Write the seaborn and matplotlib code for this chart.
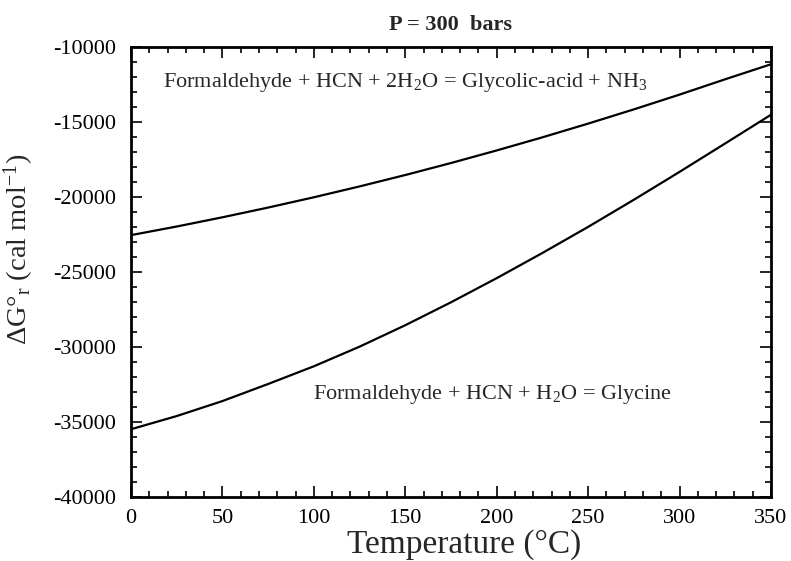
import matplotlib
matplotlib.use("Agg")
import matplotlib.pyplot as plt
from matplotlib.ticker import MultipleLocator
import pandas as pd
import seaborn as sns

# Temperature grid (°C) and standard Gibbs energies of reaction (cal/mol) at 300 bars
temperature = [0, 25, 50, 75, 100, 125, 150, 175, 200, 225, 250, 275, 300, 325, 350]
dg_glycolic = [-22550, -21975, -21360, -20710, -20025, -19300, -18540, -17740,
               -16900, -16025, -15110, -14160, -13175, -12150, -11150]
dg_glycine = [-35500, -34620, -33620, -32480, -31300, -29990, -28560, -27030,
              -25420, -23740, -22000, -20190, -18330, -16430, -14520]

label_glycolic = "Formaldehyde + HCN + 2H$_2$O = Glycolic-acid + NH$_3$"
label_glycine = "Formaldehyde + HCN + H$_2$O = Glycine"

sns.set_style("ticks")
plt.rcParams["font.family"] = ["Liberation Serif", "DejaVu Serif"]
plt.rcParams["mathtext.fontset"] = "custom"
plt.rcParams["mathtext.rm"] = "Liberation Serif"
plt.rcParams["mathtext.it"] = "Liberation Serif:italic"
plt.rcParams["mathtext.bf"] = "Liberation Serif:bold"
plt.rcParams["mathtext.default"] = "regular"
plt.rcParams["axes.unicode_minus"] = False

df = pd.concat([
    pd.DataFrame({"T": temperature, "dG": dg_glycolic, "reaction": "glycolic"}),
    pd.DataFrame({"T": temperature, "dG": dg_glycine, "reaction": "glycine"}),
])

fig = plt.figure(figsize=(7.91, 5.61), dpi=100)
ax = fig.add_axes([0.1656, 0.1146, 0.8091, 0.8016])

sns.lineplot(data=df, x="T", y="dG", hue="reaction",
             palette={"glycolic": "black", "glycine": "black"},
             linewidth=1.6, estimator=None, legend=False, ax=ax)

ax.set_xlim(0, 350)
ax.set_ylim(-40000, -10000)
ax.xaxis.set_major_locator(MultipleLocator(50))
ax.xaxis.set_minor_locator(MultipleLocator(10))
ax.yaxis.set_major_locator(MultipleLocator(5000))
ax.yaxis.set_minor_locator(MultipleLocator(1000))
ax.tick_params(which="both", direction="in", top=True, right=True, width=1.2,
               labelsize=16, colors="black")
ax.tick_params(axis="y", which="major", pad=11)
ax.tick_params(axis="x", which="major", pad=9)
ax.tick_params(which="major", length=8)
ax.tick_params(which="minor", length=4)
for s in ax.spines.values():
    s.set_linewidth(2)
    s.set_color("black")

ax.set_xlabel("Temperature (°C)", fontsize=24)
ax.xaxis.set_label_coords(0.52, -0.072)
ax.set_ylabel("ΔG°$_r$ (cal mol$^{-1}$)", fontsize=20.5)
ax.yaxis.set_label_coords(-0.148, 0.55)
ax.set_title("P = 300  bars", fontsize=16, fontweight="bold", pad=12)

ax.text(17.5, -12350, label_glycolic, fontsize=16, ha="left", va="center")
ax.text(99.5, -33200, label_glycine, fontsize=16, ha="left", va="center")

fig.savefig("out.png", dpi=100, facecolor="white")
